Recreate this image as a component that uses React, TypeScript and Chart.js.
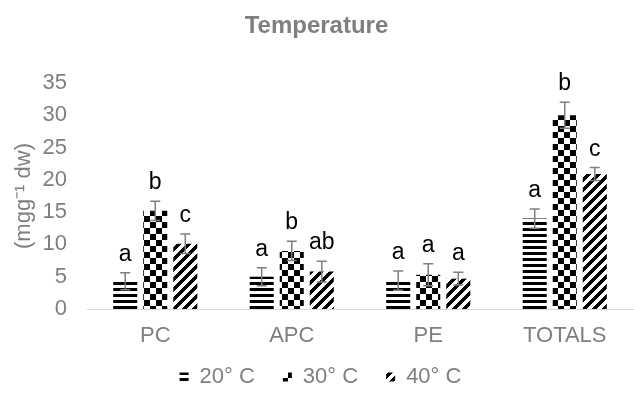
import React, { useEffect, useRef } from "react";
import { Chart, registerables } from "chart.js";

Chart.register(...registerables);

const categories = ["PC", "APC", "PE", "TOTALS"];
const seriesNames = ["20° C", "30° C", "40° C"];

const values20 = [4.3, 5.0, 4.4, 14.0];
const values30 = [15.2, 9.0, 5.3, 30.0];
const values40 = [10.1, 5.8, 4.7, 20.9];

const errors20 = [1.3, 1.4, 1.5, 1.5];
const errors30 = [1.5, 1.5, 1.7, 2.0];
const errors40 = [1.5, 1.6, 1.0, 1.0];

const letters20 = ["a", "a", "a", "a"];
const letters30 = ["b", "b", "a", "b"];
const letters40 = ["c", "ab", "a", "c"];

const yTicks = [0, 5, 10, 15, 20, 25, 30, 35];

const allErrors = [errors20, errors30, errors40];
const allLetters = [letters20, letters30, letters40];

const GRAY = "#7f7f7f";
const FONT = '"Liberation Sans", Arial, sans-serif';

function makeTile(size: number, draw: (c: CanvasRenderingContext2D) => void) {
  const t = document.createElement("canvas");
  t.width = size;
  t.height = size;
  const c = t.getContext("2d")!;
  c.fillStyle = "#ffffff";
  c.fillRect(0, 0, size, size);
  c.fillStyle = "#000000";
  draw(c);
  return t;
}

function makePatterns(ctx: CanvasRenderingContext2D) {
  const horiz = makeTile(6, (c) => {
    c.fillRect(0, 0, 6, 3);
  });
  const checker = makeTile(12, (c) => {
    c.fillRect(0, 0, 6, 6);
    c.fillRect(6, 6, 6, 6);
  });
  const diag = makeTile(10, (c) => {
    for (let x = 0; x < 10; x++) {
      for (let y = 0; y < 10; y++) {
        if ((x + y) % 10 < 5) c.fillRect(x, y, 1, 1);
      }
    }
  });
  return [
    ctx.createPattern(horiz, "repeat")!,
    ctx.createPattern(checker, "repeat")!,
    ctx.createPattern(diag, "repeat")!,
  ];
}

const errorBarPlugin = {
  id: "errorBarsLetters",
  afterDatasetsDraw(chart: any) {
    const ctx = chart.ctx as CanvasRenderingContext2D;
    const yScale = chart.scales.y;
    chart.data.datasets.forEach((ds: any, di: number) => {
      const meta = chart.getDatasetMeta(di);
      meta.data.forEach((bar: any, i: number) => {
        const v = ds.data[i] as number;
        const e = allErrors[di][i];
        const yTop = yScale.getPixelForValue(v + e);
        const yBot = yScale.getPixelForValue(v - e);
        const x = bar.x;
        ctx.save();
        ctx.strokeStyle = GRAY;
        ctx.lineWidth = 1.5;
        ctx.beginPath();
        ctx.moveTo(x, yTop);
        ctx.lineTo(x, yBot);
        ctx.moveTo(x - 5, yTop);
        ctx.lineTo(x + 5, yTop);
        ctx.moveTo(x - 5, yBot);
        ctx.lineTo(x + 5, yBot);
        ctx.stroke();
        ctx.fillStyle = "#000000";
        ctx.font = `23px ${FONT}`;
        ctx.textAlign = "center";
        ctx.textBaseline = "alphabetic";
        ctx.fillText(allLetters[di][i], x, yTop - 12);
        ctx.restore();
      });
    });
  },
};

// Moves the bottom legend so its text row sits where the reference has it.
const legendPlacePlugin = {
  id: "legendPlace",
  afterLayout(chart: any) {
    const lg = chart.legend;
    if (!lg) return;
    const h = lg.height;
    lg.top = 338;
    lg.bottom = 338 + h;
    lg.left += 4;
    lg.right += 4;
  },
};

export default function App() {
  const ref = useRef<HTMLCanvasElement | null>(null);

  useEffect(() => {
    const canvas = ref.current!;
    const ctx = canvas.getContext("2d")!;
    const patterns = makePatterns(ctx);
    const seriesValues = [values20, values30, values40];

    const chart = new Chart(ctx, {
      type: "bar",
      data: {
        labels: categories,
        datasets: seriesNames.map((name, i) => ({
          label: name,
          data: seriesValues[i],
          backgroundColor: patterns[i],
          borderWidth: 0,
          categoryPercentage: 0.66,
          barPercentage: 0.8,
        })),
      },
      options: {
        animation: false,
        responsive: false,
        layout: { padding: { left: 0, right: 1, top: 0, bottom: 1 } },
        plugins: {
          title: {
            display: true,
            text: "Temperature",
            color: GRAY,
            font: { family: FONT, size: 24, weight: "bold" },
            padding: { top: 11.6, bottom: 42.6 },
          },
          legend: {
            position: "bottom",
            maxHeight: 48,
            labels: {
              color: GRAY,
              font: { family: FONT, size: 22 },
              boxWidth: 9,
              boxHeight: 9,
              padding: 28,
            },
          },
          tooltip: { enabled: false },
        },
        scales: {
          x: {
            grid: { display: false, drawTicks: false },
            border: { display: true, color: "#d9d9d9", width: 1 },
            ticks: {
              color: GRAY,
              font: { family: FONT, size: 22 },
              padding: 14,
            },
            afterFit(scale: any) {
              scale.height = 41;
            },
          },
          y: {
            min: 0,
            max: 35,
            grid: { display: false, drawTicks: false },
            border: { display: false },
            afterBuildTicks(scale: any) {
              scale.ticks = yTicks.map((v) => ({ value: v }));
            },
            ticks: {
              color: GRAY,
              font: { family: FONT, size: 22 },
              padding: 20,
            },
            title: {
              display: true,
              text: "(mgg⁻¹ dw)",
              color: GRAY,
              font: { family: FONT, size: 22 },
              padding: { top: 11, bottom: 0 },
            },
            afterFit(scale: any) {
              scale.width = 87;
            },
          },
        },
      },
      plugins: [errorBarPlugin, legendPlacePlugin],
    } as any);

    return () => chart.destroy();
  }, []);

  return (
    <div style={{ position: "absolute", left: 0, top: 0, width: 634, height: 399, background: "#fff" }}>
      <canvas ref={ref} width={634} height={399} style={{ display: "block" }} />
    </div>
  );
}
